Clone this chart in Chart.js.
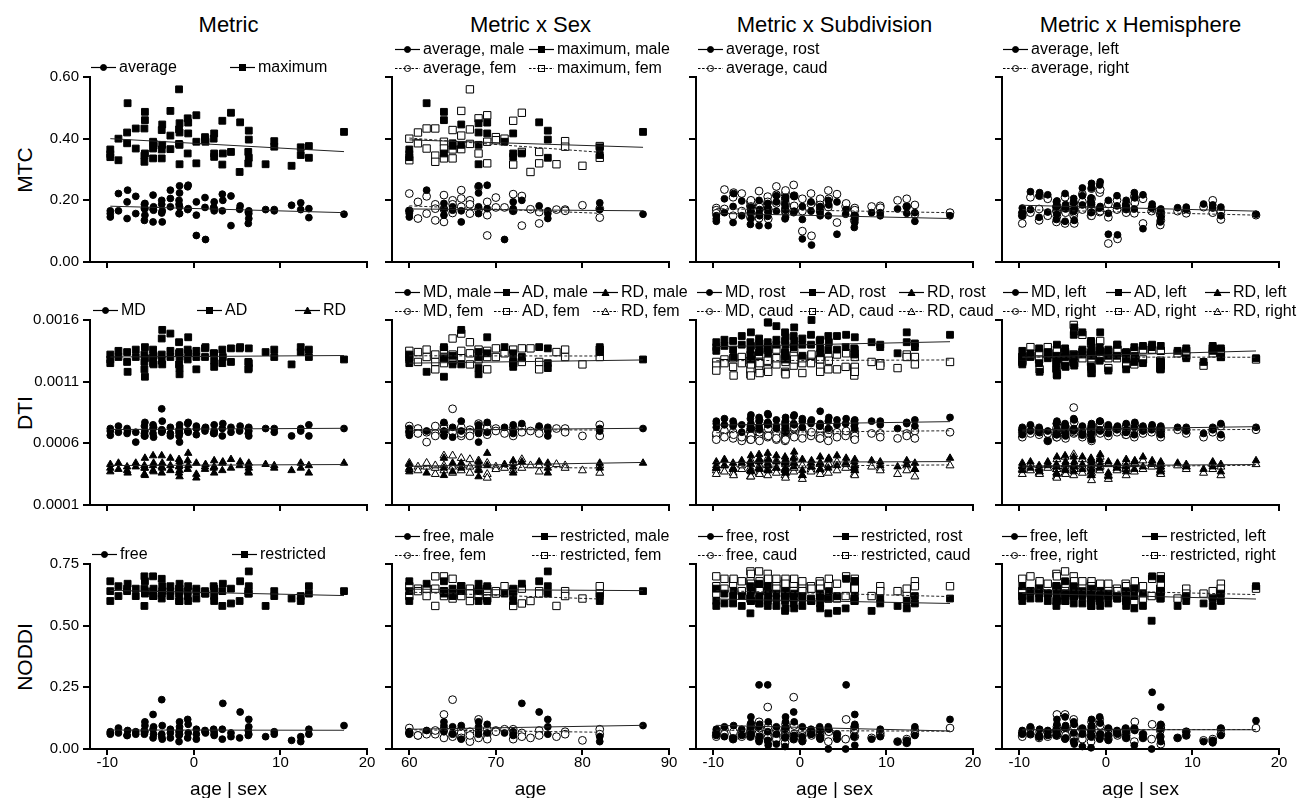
<!DOCTYPE html>
<html>
<head>
<meta charset="utf-8">
<script src="https://cdn.jsdelivr.net/npm/chart.js@4.4.1/dist/chart.umd.min.js"></script>
<style>
    body { margin: 0; background: #fff; font-family: 'Liberation Sans', Arial, sans-serif; color: #000; }
    #page { position: relative; width: 1297px; height: 798px; overflow: hidden; background: #fff; }
    .panel { position: absolute; }
    .coltitle { position: absolute; font-size: 22px; line-height: 24px; white-space: nowrap; transform: translateX(-50%); }
    .rowtitle { position: absolute; font-size: 21px; line-height: 24px; white-space: nowrap; transform: translate(-50%, -50%) rotate(-90deg); }
    .leg { position: absolute; height: 18px; font-size: 16px; line-height: 18px; white-space: nowrap; display: flex; align-items: center; }
    .leg svg { margin-right: 3px; flex: none; }
</style>
</head>
<body>
<div id="page"></div>
<script>
// ===== Subjects (age in years, sex) =====
const age = [60,60,60,60,60,61,61,62,62,62,
    63,63,63,64,64,64,64,64,64,65,
    65,65,65,65,66,66,66,66,66,67,
    67,67,68,68,68,68,68,68,69,69,
    69,69,69,70,70,71,71,72,72,72,
    72,72,73,73,73,74,75,75,75,76,
    76,76,77,78,78,80,82,82,82,82,
    87];
const sex = 'MMMFF FF MFF FFF MMMFFF MMFFF MMFFF FFF MMMMFF MMFFF FF MF MMMFF MFF F MFF MMM F FF F MMFF M'.replace(/ /g, '').split('');

// ===== MTC (x 0.001) =====
const mtcAvg = [166,157,146,222,166,195,141,233,213,157,
    187,135,173,190,173,152,217,171,130,179,
    168,200,187,159,166,130,233,206,179,200,
    187,157,247,224,179,157,244,170,249,173,
    195,152,86,209,177,73,177,195,173,166,
    220,166,200,214,118,171,182,162,125,166,
    157,141,170,170,166,184,192,170,173,144,
    155];
const mtcMax = [350,340,365,400,330,420,385,515,433,368,
    433,345,325,487,460,352,390,368,336,385,
    377,428,365,336,446,380,490,410,366,560,
    430,383,450,420,380,317,466,352,452,417,
    476,390,320,405,395,390,400,417,352,341,
    458,316,352,484,357,292,453,357,320,426,
    397,338,317,392,374,312,347,372,376,338,
    422];
const mtcRost = [150,140,132,205,160,180,128,222,198,150,
    170,122,160,178,165,140,200,158,118,170,
    150,190,175,148,160,118,215,195,165,186,
    175,140,210,205,168,145,215,160,212,165,
    180,138,75,195,165,55,165,180,160,150,
    200,150,185,195,90,155,170,150,112,150,
    140,128,160,160,150,172,180,158,160,132,
    150];
const mtcCaud = [175,168,158,235,172,210,150,225,222,165,
    195,145,182,200,180,160,230,180,142,188,
    178,212,195,168,172,140,245,218,190,212,
    198,165,225,232,188,165,250,180,215,182,
    205,165,100,222,188,85,188,205,185,175,
    232,178,205,220,128,180,190,172,135,175,
    168,150,180,182,176,200,205,180,185,155,
    160];
const mtcLeft = [175,162,150,228,170,215,145,225,218,162,
    195,138,178,198,180,155,222,176,132,186,
    172,206,192,164,172,135,240,215,185,208,
    195,160,255,240,186,162,250,175,260,180,
    200,158,90,215,182,88,182,200,180,170,
    225,172,208,218,108,176,188,168,130,172,
    162,145,176,178,170,188,185,175,178,150,
    155];
const mtcRight = [158,150,125,210,160,172,135,215,205,150,
    178,130,165,182,165,148,210,165,125,172,
    160,192,180,150,160,125,220,195,170,192,
    178,150,238,205,170,150,225,162,235,165,
    188,145,60,200,170,75,170,188,165,160,
    212,158,192,205,125,165,175,155,120,160,
    150,135,165,162,158,178,200,160,165,138,
    152];

// ===== DTI (x 0.000001) =====
const md = [700,720,665,740,690,720,680,700,610,690,
    740,680,660,770,700,660,750,720,680,730,
    650,880,710,690,780,700,660,730,680,710,
    690,660,750,720,680,610,760,700,770,690,
    740,720,670,720,700,730,680,750,700,680,
    720,660,760,730,690,700,740,720,680,730,
    700,660,720,720,690,660,720,700,750,660,
    720];
const ad = [1280,1320,1250,1350,1300,1340,1260,1180,1360,1300,
    1200,1260,1320,1380,1290,1140,1360,1300,1250,1310,
    1240,1450,1320,1270,1520,1240,1490,1300,1350,1420,
    1330,1240,1340,1210,1300,1160,1360,1280,1460,1330,
    1300,1200,1350,1370,1300,1380,1330,1330,1270,1220,
    1360,1250,1300,1370,1260,1370,1380,1260,1200,1370,
    1250,1210,1340,1360,1300,1240,1380,1340,1360,1300,
    1280];
const rd = [400,430,370,440,390,410,380,360,410,440,
    350,400,420,480,400,340,500,420,380,440,
    370,500,410,360,440,400,480,420,380,470,
    410,360,450,420,380,330,460,390,520,420,
    440,350,320,410,390,430,400,460,410,360,
    440,380,450,470,400,420,450,420,370,440,
    400,360,430,420,400,380,440,400,420,360,
    440];
const mdRost = [760,780,730,800,750,780,740,760,690,750,
    800,740,720,830,760,720,810,780,740,790,
    710,840,770,750,830,760,720,790,740,770,
    750,720,810,780,740,690,820,760,830,750,
    800,780,730,780,760,790,740,860,760,740,
    780,720,810,790,750,760,800,780,740,790,
    760,720,780,780,750,720,770,760,790,740,
    810];
const mdCaud = [660,680,630,700,650,690,640,670,620,650,
    700,650,630,720,660,630,710,680,640,690,
    620,760,670,650,720,660,630,690,640,670,
    650,620,700,680,640,630,720,660,730,650,
    700,680,640,680,660,690,640,700,660,640,
    680,620,710,690,650,660,700,680,640,690,
    660,630,680,680,650,640,680,660,700,640,
    690];
const adRost = [1380,1420,1350,1440,1390,1430,1360,1300,1470,1400,
    1320,1360,1420,1500,1390,1280,1450,1400,1340,1410,
    1350,1580,1420,1370,1580,1330,1550,1400,1440,1500,
    1430,1340,1460,1320,1400,1280,1470,1380,1540,1430,
    1400,1310,1450,1480,1400,1600,1430,1440,1370,1330,
    1470,1360,1420,1470,1360,1380,1480,1370,1320,1460,
    1360,1330,1420,1400,1380,1330,1500,1420,1410,1380,
    1480];
const adCaud = [1260,1230,1190,1280,1250,1290,1220,1150,1300,1250,
    1160,1200,1270,1310,1240,1150,1320,1260,1200,1250,
    1170,1360,1270,1200,1380,1180,1360,1240,1290,1320,
    1280,1180,1290,1170,1260,1160,1310,1230,1370,1280,
    1250,1170,1290,1310,1250,1320,1280,1280,1220,1180,
    1300,1200,1270,1320,1200,1220,1330,1210,1150,1300,
    1220,1180,1260,1250,1230,1210,1320,1300,1300,1240,
    1260];
const rdRost = [450,420,400,470,420,440,400,390,440,460,
    380,430,450,500,430,370,510,450,400,470,
    390,520,440,380,470,420,500,450,400,490,
    440,380,470,450,400,360,480,410,530,440,
    470,380,340,440,410,460,430,490,440,390,
    470,400,480,500,420,440,480,450,400,470,
    420,380,460,450,420,410,460,430,440,390,
    480];
const rdCaud = [380,400,350,420,370,390,360,340,390,420,
    330,380,400,460,380,330,470,400,360,420,
    350,480,390,340,420,380,460,400,360,450,
    390,340,430,400,360,320,440,370,490,400,
    420,340,310,390,370,410,380,440,390,350,
    420,360,430,450,380,400,430,400,350,420,
    380,340,410,400,380,350,420,380,390,330,
    420];
const mdLeft = [710,730,670,750,700,730,690,710,620,700,
    760,690,670,780,710,670,760,730,690,740,
    660,800,720,700,790,710,670,740,690,720,
    700,670,760,730,690,630,780,710,780,700,
    750,730,680,730,710,740,690,760,710,690,
    730,670,770,740,700,710,750,730,690,740,
    710,670,730,730,700,680,730,710,760,670,
    730];
const mdRight = [690,710,650,730,680,710,670,690,620,680,
    720,670,650,760,690,650,740,710,670,720,
    640,890,700,680,770,690,650,720,670,700,
    680,650,740,710,670,620,750,690,760,680,
    730,710,660,710,690,720,670,740,690,670,
    710,650,750,720,680,690,730,710,670,720,
    690,650,710,710,680,650,710,690,740,650,
    710];
const adLeft = [1300,1350,1240,1330,1300,1370,1250,1180,1340,1290,
    1200,1250,1310,1400,1280,1150,1370,1300,1230,1330,
    1220,1480,1320,1260,1540,1230,1500,1320,1360,1430,
    1340,1220,1380,1200,1310,1170,1380,1270,1500,1340,
    1310,1190,1360,1400,1310,1400,1330,1340,1280,1200,
    1380,1260,1310,1390,1250,1380,1400,1260,1200,1390,
    1250,1200,1350,1370,1290,1260,1390,1350,1370,1300,
    1290];
const adRight = [1260,1300,1270,1380,1310,1330,1280,1200,1380,1320,
    1210,1270,1330,1360,1300,1160,1340,1310,1270,1290,
    1260,1560,1320,1280,1510,1250,1480,1290,1340,1410,
    1320,1260,1320,1230,1290,1170,1350,1290,1430,1320,
    1290,1210,1340,1350,1290,1360,1330,1320,1260,1240,
    1350,1240,1290,1360,1280,1360,1360,1270,1210,1350,
    1260,1230,1330,1350,1310,1230,1370,1330,1350,1300,
    1280];
const rdLeft = [410,440,380,450,400,420,390,370,420,450,
    360,410,430,490,410,350,500,430,390,450,
    380,490,420,370,450,410,490,430,390,480,
    420,370,460,430,390,340,470,400,510,430,
    450,360,330,420,400,440,410,470,420,370,
    450,390,460,490,410,430,460,430,380,450,
    410,370,440,430,410,390,450,410,430,370,
    460];
const rdRight = [390,420,350,430,380,400,360,350,400,430,
    330,390,410,470,390,320,490,410,360,430,
    350,510,400,340,430,390,470,410,360,460,
    400,340,440,410,360,300,450,380,490,410,
    430,340,310,400,380,420,390,450,400,340,
    430,370,440,460,390,410,440,410,360,430,
    390,350,420,410,390,360,430,390,410,340,
    430];

// ===== NODDI (x 0.001) =====
const free = [70,65,60,85,65,55,55,75,70,60,
    70,60,75,110,95,70,140,80,45,90,
    60,200,60,50,95,40,80,65,45,70,
    30,55,110,90,75,60,120,45,100,65,
    80,60,40,75,70,65,80,70,60,55,
    80,40,185,65,50,45,150,75,55,120,
    90,60,50,70,60,35,50,30,80,60,
    95];
const restr = [680,600,640,660,620,650,640,670,650,620,
    700,650,580,680,640,630,700,620,640,650,
    620,690,610,630,660,640,640,620,660,650,
    600,630,670,600,640,650,640,620,660,600,
    640,610,650,630,640,630,660,650,600,620,
    640,580,670,650,590,600,680,640,630,720,
    660,630,580,640,620,610,600,620,660,630,
    640];
const freeRost = [80,60,55,90,50,45,40,95,80,55,
    80,50,85,130,105,60,260,90,30,100,
    50,260,70,35,110,15,90,60,20,80,
    10,45,130,110,85,50,150,40,110,55,
    90,50,30,80,60,60,90,75,50,40,
    90,0,80,60,40,0,260,90,50,140,
    100,15,40,80,50,30,35,25,90,55,
    120];
const freeCaud = [65,55,50,80,60,40,45,70,60,50,
    65,50,70,100,90,60,110,75,40,85,
    50,170,60,45,90,30,75,55,40,60,
    25,50,100,85,70,55,210,40,95,60,
    75,55,35,70,65,55,75,65,55,45,
    75,30,70,60,45,40,120,70,50,90,
    80,50,45,65,55,30,40,25,75,60,
    85];
const restrRost = [650,580,600,630,590,620,590,640,620,580,
    660,620,550,640,600,600,670,590,610,620,
    590,660,580,600,630,610,610,580,630,620,
    560,600,640,570,610,620,610,590,630,570,
    610,580,620,600,610,600,630,620,570,590,
    610,550,640,620,560,570,690,610,600,680,
    620,600,560,610,590,580,570,600,620,590,
    610];
const restrCaud = [700,630,660,690,650,680,670,690,680,640,
    720,680,610,710,670,650,720,650,660,680,
    640,710,640,650,690,660,670,650,690,680,
    630,650,690,630,660,670,670,640,690,620,
    660,640,680,650,660,650,680,670,620,650,
    660,610,690,670,610,620,700,660,650,690,
    680,650,620,660,640,640,630,650,680,660,
    660];
const freeLeft = [75,60,65,90,60,55,50,80,75,55,
    75,55,80,120,100,60,130,85,40,95,
    45,110,65,30,100,20,85,60,10,75,
    5,50,120,95,80,55,130,40,105,60,
    85,55,35,75,65,60,85,70,50,45,
    85,15,75,60,45,0,230,80,50,170,
    100,30,45,70,55,30,35,25,85,55,
    115];
const freeRight = [65,55,50,85,60,45,50,70,70,50,
    70,55,75,140,90,55,140,75,45,85,
    55,120,60,40,90,30,80,55,40,65,
    30,55,110,90,70,50,120,45,95,60,
    80,55,40,70,65,55,80,65,55,45,
    80,30,110,60,45,40,100,75,50,95,
    85,20,45,70,55,35,40,30,80,60,
    85];
const restrLeft = [660,600,620,640,610,630,610,650,630,600,
    660,630,580,650,610,600,680,600,620,630,
    600,660,590,620,640,620,620,590,640,630,
    580,600,650,580,620,630,620,600,640,580,
    620,590,630,610,620,610,640,630,580,600,
    620,570,650,630,580,520,700,620,610,690,
    640,610,580,620,600,590,580,610,630,600,
    660];
const restrRight = [690,620,640,700,640,670,650,680,670,630,
    710,660,600,700,650,640,720,640,650,670,
    630,700,620,640,680,650,660,630,680,670,
    610,640,680,610,650,660,660,620,670,610,
    650,620,670,640,650,640,670,660,600,630,
    650,600,680,660,610,620,690,650,640,700,
    670,640,610,650,630,630,620,640,670,650,
    650];

// ===== Fitted lines: [value at first age, value at last age] =====
const fitMetric = [
    [[181, 160], [400, 358]],
    [[712, 722], [1300, 1312], [420, 428]],
    [[77, 76], [643, 622]]
];
const fitSex = [
    [[[172, 166], [182, 158]], [[396, 372], [402, 356]]],
    [[[706, 722], [712, 708]], [[1250, 1276], [1310, 1308]], [[414, 445], [412, 400]]],
    [[[80, 96], [78, 68]], [[648, 642], [636, 608]]]
];
const fitSub = [
    [[[158, 141], [173, 160]]],
    [[[748, 776], [686, 702]], [[1384, 1424], [1270, 1276]], [[445, 452], [412, 425]]],
    [[[96, 73], [76, 72]], [[608, 590], [642, 618]]]
];
const fitHemi = [
    [[[184, 165], [170, 152]]],
    [[[708, 735], [700, 713]], [[1297, 1349], [1300, 1298]], [[416, 428], [406, 422]]],
    [[[78, 78], [78, 79]], [[631, 608], [649, 626]]]
];

// ===== Axes =====
const rowNames = ['MTC', 'DTI', 'NODDI'];
const colNames = ['Metric', 'Metric x Sex', 'Metric x Subdivision', 'Metric x Hemisphere'];
const rowUnit = [0.001, 0.000001, 0.001];
const yTicks = [[0, 0.2, 0.4, 0.6], [0.0001, 0.0006, 0.0011, 0.0016], [0, 0.25, 0.5, 0.75]];
const yDecimals = [2, 4, 2];
const xTicksCentered = [-10, 0, 10, 20];
const xTicksAge = [60, 70, 80, 90];
const xTitles = ['age | sex', 'age', 'age | sex', 'age | sex'];

// ===== Layout =====
const plotLeft = [90, 392, 696, 1002];
const plotTop = [77, 320, 564];
const plotW = 277, plotH = 185;
const legendX = [
    [[1, 140], [3, 137], [2], [1]],
    [[3, 107, 205], [3, 102, 201], [1, 104, 203], [1, 104, 203]],
    [[2, 142], [3, 140], [2, 137], [0, 140]]
];

Chart.defaults.font.family = "'Liberation Sans', Arial, sans-serif";
Chart.defaults.color = '#000';

const page = document.getElementById('page');

// ===== Centered age (age | sex) =====
function meanAge(s) {
    const a = age.filter((v, i) => sex[i] === s);
    return a.reduce((p, v) => p + v, 0) / a.length;
}
const sexMean = { M: meanAge('M'), F: meanAge('F') };
const ageC = age.map((v, i) => v - sexMean[sex[i]]);

const rowMetrics = [
    [{ label: 'average', shape: 'circle', v: mtcAvg }, { label: 'maximum', shape: 'rect', v: mtcMax }],
    [{ label: 'MD', shape: 'circle', v: md }, { label: 'AD', shape: 'rect', v: ad }, { label: 'RD', shape: 'triangle', v: rd }],
    [{ label: 'free', shape: 'circle', v: free }, { label: 'restricted', shape: 'rect', v: restr }]
];
const rowSubdiv = [
    [{ label: 'average', shape: 'circle', a: mtcRost, b: mtcCaud }],
    [{ label: 'MD', shape: 'circle', a: mdRost, b: mdCaud }, { label: 'AD', shape: 'rect', a: adRost, b: adCaud }, { label: 'RD', shape: 'triangle', a: rdRost, b: rdCaud }],
    [{ label: 'free', shape: 'circle', a: freeRost, b: freeCaud }, { label: 'restricted', shape: 'rect', a: restrRost, b: restrCaud }]
];
const rowHemi = [
    [{ label: 'average', shape: 'circle', a: mtcLeft, b: mtcRight }],
    [{ label: 'MD', shape: 'circle', a: mdLeft, b: mdRight }, { label: 'AD', shape: 'rect', a: adLeft, b: adRight }, { label: 'RD', shape: 'triangle', a: rdLeft, b: rdRight }],
    [{ label: 'free', shape: 'circle', a: freeLeft, b: freeRight }, { label: 'restricted', shape: 'rect', a: restrLeft, b: restrRight }]
];

function makeSeries(label, shape, filled, xs, ys, fit, u) {
    return { label, shape, filled, dashed: !filled, x: xs, y: ys.map(v => v * u), fit: fit.map(v => v * u) };
}

// ===== Build the series of one panel, grouped by legend row =====
function panelGroups(r, c) {
    const u = rowUnit[r];
    if (c === 0) {
        return [rowMetrics[r].map((m, k) => makeSeries(m.label, m.shape, true, ageC, m.v, fitMetric[r][k], u))];
    }
    if (c === 1) {
        const male = age.map((v, i) => i).filter(i => sex[i] === 'M');
        const fem = age.map((v, i) => i).filter(i => sex[i] === 'F');
        return [
            rowMetrics[r].map((m, k) => makeSeries(m.label + ', male', m.shape, true,
                male.map(i => age[i]), male.map(i => m.v[i]), fitSex[r][k][0], u)),
            rowMetrics[r].map((m, k) => makeSeries(m.label + ', fem', m.shape, false,
                fem.map(i => age[i]), fem.map(i => m.v[i]), fitSex[r][k][1], u))
        ];
    }
    const src = c === 2 ? rowSubdiv[r] : rowHemi[r];
    const names = c === 2 ? ['rost', 'caud'] : ['left', 'right'];
    const fits = c === 2 ? fitSub : fitHemi;
    return [
        src.map((m, k) => makeSeries(m.label + ', ' + names[0], m.shape, true, ageC, m.a, fits[r][k][0], u)),
        src.map((m, k) => makeSeries(m.label + ', ' + names[1], m.shape, false, ageC, m.b, fits[r][k][1], u))
    ];
}

function pointSize(shape, filled) {
    if (shape === 'rect') return filled ? 4.8 : 5.2;
    if (shape === 'triangle') return filled ? 4.3 : 4.6;
    return filled ? 3.4 : 3.9;
}

// ===== Legend symbol =====
function symbolSvg(shape, filled, dashed) {
    const fill = filled ? '#000' : 'none';
    const dash = dashed ? ' stroke-dasharray="2.5 1.6"' : '';
    let mark;
    if (shape === 'circle') {
        mark = `<circle cx="12.5" cy="6.5" r="3" fill="${fill}" stroke="#000" stroke-width="1"/>`;
    } else if (shape === 'rect') {
        mark = `<rect x="9.5" y="3.5" width="6" height="6" fill="${fill}" stroke="#000" stroke-width="1"/>`;
    } else {
        mark = `<polygon points="12.5,3 16,9.5 9,9.5" fill="${fill}" stroke="#000" stroke-width="1"/>`;
    }
    return `<svg width="25" height="13" viewBox="0 0 25 13"><line x1="0" y1="6.5" x2="25" y2="6.5" stroke="#000" stroke-width="1.2"${dash}/>${mark}</svg>`;
}

// ===== Draw one panel =====
function drawPanel(r, c) {
    const groups = panelGroups(r, c);
    const padL = c === 0 ? 86 : 14;
    const padT = 12, padR = 14;
    const padB = r === 2 ? 50 : 12;
    const w = padL + plotW + padR, h = padT + plotH + padB;

    const box = document.createElement('div');
    box.className = 'panel';
    box.style.left = (plotLeft[c] - padL) + 'px';
    box.style.top = (plotTop[r] - padT) + 'px';
    const cv = document.createElement('canvas');
    cv.width = w; cv.height = h;
    cv.style.width = w + 'px'; cv.style.height = h + 'px';
    box.appendChild(cv);
    page.appendChild(box);

    const lines = [], filledSets = [], openSets = [];
    groups.forEach(g => g.forEach(s => {
        const xmin = Math.min(...s.x), xmax = Math.max(...s.x);
        lines.push({
            data: [{ x: xmin, y: s.fit[0] }, { x: xmax, y: s.fit[1] }],
            showLine: true, pointRadius: 0, borderColor: '#222', borderWidth: 1,
            borderDash: s.dashed ? [3, 2] : [], clip: false
        });
        const set = {
            data: s.x.map((x, i) => ({ x, y: s.y[i] })),
            pointStyle: s.shape,
            pointRadius: pointSize(s.shape, s.filled),
            backgroundColor: s.filled ? '#000' : '#fff',
            borderColor: '#000',
            borderWidth: 1,
            clip: false
        };
        (s.filled ? filledSets : openSets).push(set);
    }));

    const xTicks = c === 1 ? xTicksAge : xTicksCentered;
    const axisLine = { display: true, color: '#000', width: 2 };

    new Chart(cv, {
        type: 'scatter',
        data: { datasets: lines.concat(filledSets, openSets) },
        options: {
            responsive: false,
            animation: false,
            devicePixelRatio: 1,
            events: [],
            layout: { padding: { top: padT, right: padR, left: 0, bottom: 0 } },
            plugins: { legend: { display: false }, tooltip: { enabled: false } },
            scales: {
                x: {
                    type: 'linear',
                    min: c === 1 ? 58 : -12,
                    max: c === 1 ? 90 : 20,
                    afterBuildTicks: s => { s.ticks = xTicks.map(v => ({ value: v })); },
                    afterFit: s => { s.height = padB; s.paddingLeft = 0; s.paddingRight = 0; },
                    border: axisLine,
                    grid: { drawOnChartArea: false, drawTicks: true, tickLength: 6, color: '#000', lineWidth: 2 },
                    ticks: {
                        autoSkip: false, maxRotation: 0, padding: -1,
                        font: { size: 15 }, color: '#000',
                        callback: v => (r === 2 ? String(v) : '')
                    },
                    title: {
                        display: r === 2, text: xTitles[c], color: '#000',
                        font: { size: 19, lineHeight: 1 }, padding: 0
                    }
                },
                y: {
                    type: 'linear',
                    min: yTicks[r][0],
                    max: yTicks[r][yTicks[r].length - 1],
                    afterBuildTicks: s => { s.ticks = yTicks[r].map(v => ({ value: v })); },
                    afterFit: s => { s.width = padL; s.paddingTop = 0; s.paddingBottom = 0; },
                    border: axisLine,
                    grid: { drawOnChartArea: false, drawTicks: true, tickLength: 7, color: '#000', lineWidth: 2 },
                    ticks: {
                        autoSkip: false, padding: 4,
                        font: { size: 15 }, color: '#000',
                        callback: v => (c === 0 ? Number(v).toFixed(yDecimals[r]) : '')
                    }
                }
            }
        }
    });

    // Legend above the panel
    const single = groups.length === 1;
    groups.forEach((g, gi) => {
        const yc = plotTop[r] - (single ? 10 : (gi === 0 ? 28 : 9));
        g.forEach((s, k) => {
            const item = document.createElement('div');
            item.className = 'leg';
            item.style.left = (plotLeft[c] + legendX[r][c][k]) + 'px';
            item.style.top = (yc - 9) + 'px';
            item.innerHTML = symbolSvg(s.shape, s.filled, s.dashed) + '<span>' + s.label + '</span>';
            page.appendChild(item);
        });
    });
}

// ===== Titles =====
colNames.forEach((t, c) => {
    const d = document.createElement('div');
    d.className = 'coltitle';
    d.textContent = t;
    d.style.left = (plotLeft[c] + plotW / 2) + 'px';
    d.style.top = '13px';
    page.appendChild(d);
});
rowNames.forEach((t, r) => {
    const d = document.createElement('div');
    d.className = 'rowtitle';
    d.textContent = t;
    d.style.left = '25px';
    d.style.top = (plotTop[r] + plotH / 2) + 'px';
    page.appendChild(d);
});

for (let r = 0; r < 3; r++) {
    for (let c = 0; c < 4; c++) {
        drawPanel(r, c);
    }
}
</script>
</body>
</html>
